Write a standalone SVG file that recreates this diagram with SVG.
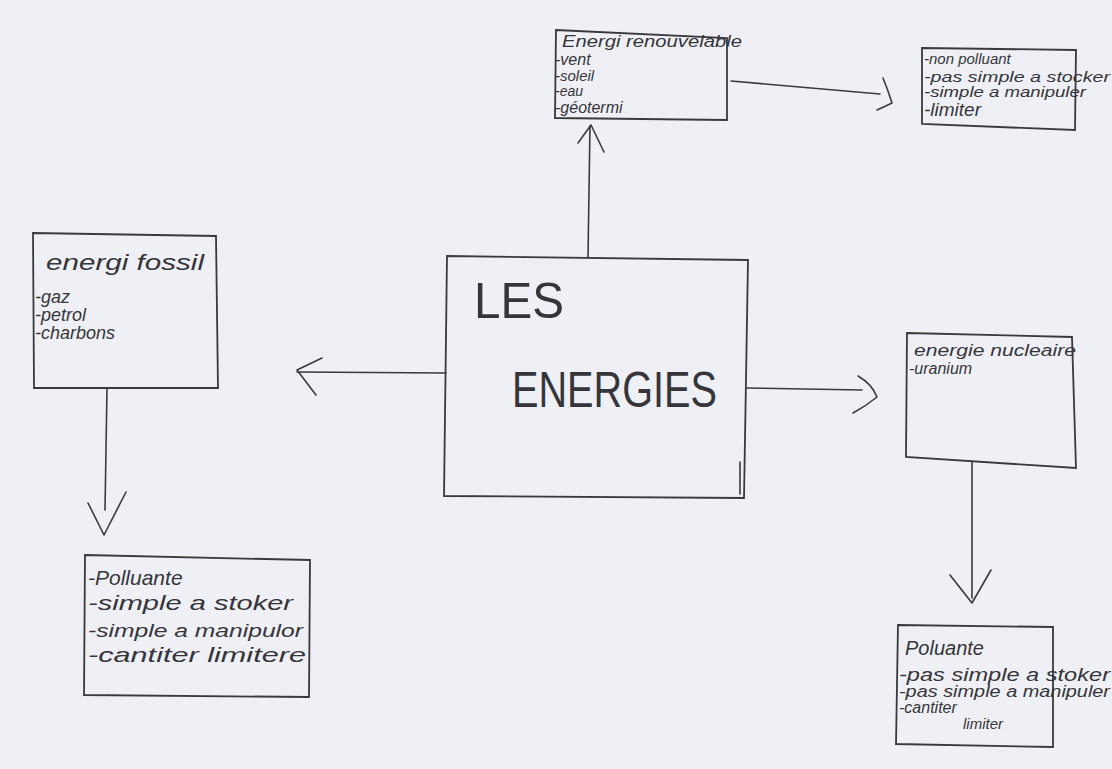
<svg xmlns="http://www.w3.org/2000/svg" width="1112" height="769" viewBox="0 0 1112 769">
<style>
.box{fill:none;stroke:#3a3a3e;stroke-width:1.8}
.ln{fill:none;stroke:#3a3a3e;stroke-width:1.6;stroke-linecap:round;stroke-linejoin:round}
.t{font-family:"Liberation Sans","DejaVu Sans",sans-serif;font-style:italic;fill:#35353a}
.big{font-family:"Liberation Sans","DejaVu Sans",sans-serif;fill:#35353a;font-size:50px}
</style>
<rect width="1112" height="769" fill="#eff0f5"/>
<g id="connectors">
<path class="ln" d="M588,257 L590,126"/>
<path class="ln" d="M578,143 L591,125 L604,152"/>
<path class="ln" d="M731,81 L880,94"/>
<path class="ln" d="M883,78 Q888,90 892,103 Q884,107 877,110"/>
<path class="ln" d="M446,373 L297,372"/>
<path class="ln" d="M322,358 L297,370 L316,395"/>
<path class="ln" d="M746,388 L862,390"/>
<path class="ln" d="M858,376 Q872,384 877,397 Q866,406 853,413"/>
<path class="ln" d="M107,388 L105,510"/>
<path class="ln" d="M88,503 L104,535 L126,492"/>
<path class="ln" d="M972,462 L972,598"/>
<path class="ln" d="M950,575 L972,603 L991,570"/>
</g>
<g id="center">
<path class="box" d="M447,256 L748,260 L744,498 L444,496 Z"/>
<path class="ln" d="M740,462 L740,494"/>
<text class="big" x="474" y="318" textLength="90" lengthAdjust="spacingAndGlyphs">LES</text>
<text class="big" x="512" y="407" textLength="205" lengthAdjust="spacingAndGlyphs">ENERGIES</text>
</g>
<g id="renouvelable">
<path class="box" d="M556,30 L727,38 L727,120 L555,118 Z"/>
<text class="t" x="562" y="47" font-size="17" textLength="180" lengthAdjust="spacingAndGlyphs">Energi renouvelable</text>
<text class="t" x="555" y="65" font-size="16">-vent</text>
<text class="t" x="555" y="81" font-size="15">-soleil</text>
<text class="t" x="555" y="96" font-size="14">-eau</text>
<text class="t" x="555" y="113" font-size="16">-géotermi</text>
</g>
<g id="renouvelable-props">
<path class="box" d="M922,48 L1076,50 L1075,130 L922,124 Z"/>
<text class="t" x="924" y="64" font-size="15">-non polluant</text>
<text class="t" x="924" y="82" font-size="15" textLength="186" lengthAdjust="spacingAndGlyphs">-pas simple a stocker</text>
<text class="t" x="924" y="97" font-size="14" textLength="162" lengthAdjust="spacingAndGlyphs">-simple a manipuler</text>
<text class="t" x="924" y="116" font-size="19">-limiter</text>
</g>
<g id="fossil">
<path class="box" d="M33,233 L216,236 L218,388 L34,388 Z"/>
<text class="t" x="46" y="270" font-size="22" textLength="158" lengthAdjust="spacingAndGlyphs">energi fossil</text>
<text class="t" x="35" y="303" font-size="18">-gaz</text>
<text class="t" x="35" y="321" font-size="18">-petrol</text>
<text class="t" x="35" y="339" font-size="18">-charbons</text>
</g>
<g id="fossil-props">
<path class="box" d="M85,555 L310,560 L309,697 L84,695 Z"/>
<text class="t" x="88" y="585" font-size="21">-Polluante</text>
<text class="t" x="88" y="610" font-size="21" textLength="205" lengthAdjust="spacingAndGlyphs">-simple a stoker</text>
<text class="t" x="88" y="637" font-size="19" textLength="215" lengthAdjust="spacingAndGlyphs">-simple a manipulor</text>
<text class="t" x="88" y="662" font-size="21" textLength="218" lengthAdjust="spacingAndGlyphs">-cantiter limitere</text>
</g>
<g id="nucleaire">
<path class="box" d="M907,333 L1072,337 L1076,468 L906,457 Z"/>
<text class="t" x="914" y="356" font-size="16" textLength="162" lengthAdjust="spacingAndGlyphs">energie nucleaire</text>
<text class="t" x="909" y="374" font-size="16">-uranium</text>
</g>
<g id="nucleaire-props">
<path class="box" d="M898,625 L1053,627 L1053,747 L896,744 Z"/>
<text class="t" x="905" y="655" font-size="20">Poluante</text>
<text class="t" x="899" y="681" font-size="18" textLength="211" lengthAdjust="spacingAndGlyphs">-pas simple a stoker</text>
<text class="t" x="899" y="697" font-size="16" textLength="211" lengthAdjust="spacingAndGlyphs">-pas simple a manipuler</text>
<text class="t" x="899" y="713" font-size="16">-cantiter</text>
<text class="t" x="963" y="729" font-size="15">limiter</text>
</g>
</svg>
